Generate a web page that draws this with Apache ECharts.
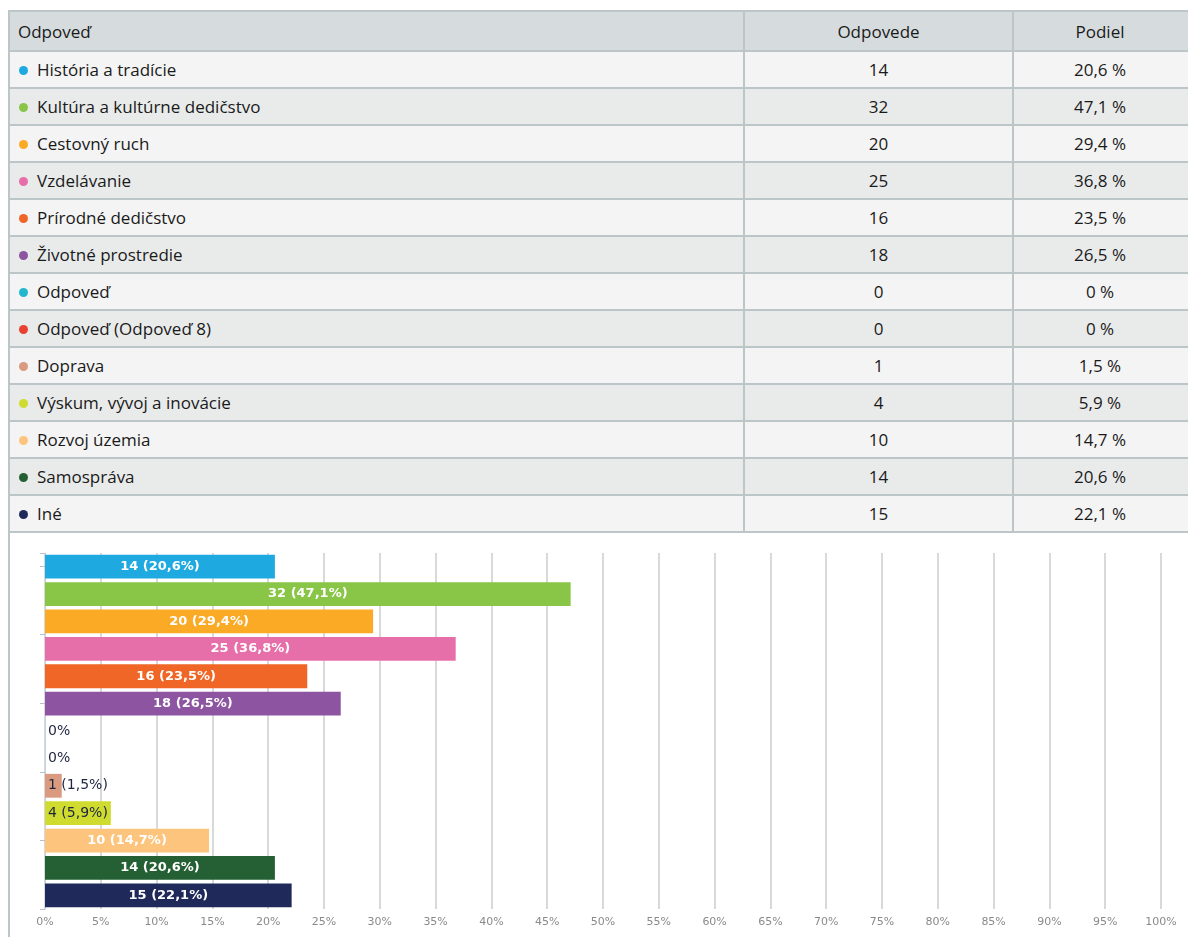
<!DOCTYPE html>
<html>
<head>
<meta charset="utf-8">
<script src="https://cdn.jsdelivr.net/npm/echarts@6/dist/echarts.min.js"></script>
<style>
  html, body { margin: 0; padding: 0; background: #fff; overflow: hidden; }
  #wrap { position: absolute; left: 8px; top: 10px; width: 1200px; }
  #leftline { position: absolute; left: 8px; top: 530px; width: 2px; height: 410px; background: #bcc5c7; }
  table { border-collapse: collapse; table-layout: fixed; width: 1200px; font-family: "Open Sans", "Noto Sans", sans-serif; font-size: 17px; color: #1a1a1a; }
  td, th { border: 2px solid #bcc5c7; padding: 0; font-weight: normal; }
  th { background: #d6dcde; height: 38px; }
  td { height: 35px; }
  tr.odd td { background: #f4f4f4; }
  tr.even td { background: #e9ebeb; }
  .c1 { width: 725px; text-align: left; padding-left: 8px; }
  .c2 { width: 267px; text-align: center; }
  .c3 { text-align: center; padding-right: 20px; }
  .dot { display: inline-block; width: 9px; height: 9px; border-radius: 50%; margin: 0 9px 0 1px; vertical-align: 1px; }
  #chart { position: absolute; left: 0; top: 533px; width: 1188px; height: 404px; }
</style>
</head>
<body>
<div id="wrap">
  <table id="tbl">
    <thead><tr><th class="c1">Odpoveď</th><th class="c2">Odpovede</th><th class="c3">Podiel</th></tr></thead>
    <tbody id="tbody"></tbody>
  </table>
</div>
<div id="leftline"></div>
<div id="chart"></div>
<script>
// answers, counts and shares (%) as shown in the table
var categories = ['História a tradície', 'Kultúra a kultúrne dedičstvo', 'Cestovný ruch', 'Vzdelávanie',
  'Prírodné dedičstvo', 'Životné prostredie', 'Odpoveď', 'Odpoveď (Odpoveď 8)', 'Doprava',
  'Výskum, vývoj a inovácie', 'Rozvoj územia', 'Samospráva', 'Iné'];
var counts = [14, 32, 20, 25, 16, 18, 0, 0, 1, 4, 10, 14, 15];
var shares = [20.6, 47.1, 29.4, 36.8, 23.5, 26.5, 0, 0, 1.5, 5.9, 14.7, 20.6, 22.1];
var colors = ['#1fa9e1', '#89c546', '#fbaa26', '#e66fa9', '#ef6627', '#8d54a1', '#20b7cf',
  '#e8412f', '#d99a7f', '#cfdc2f', '#fdc47e', '#246033', '#1f2a5b'];

function fmt(v) {
  return String(v).replace('.', ',');
}

// table
var rows = '';
for (var i = 0; i < categories.length; i++) {
  rows += '<tr class="' + (i % 2 === 0 ? 'odd' : 'even') + '">' +
    '<td class="c1"><span class="dot" style="background:' + colors[i] + '"></span>' + categories[i] + '</td>' +
    '<td class="c2">' + counts[i] + '</td>' +
    '<td class="c3">' + fmt(shares[i]) + '\u00a0%</td></tr>';
}
document.getElementById('tbody').innerHTML = rows;

// chart
var chart = echarts.init(document.getElementById('chart'));

var barData = shares.map(function (v, i) {
  var small = v < 10;
  return {
    value: v,
    itemStyle: { color: colors[i] },
    label: {
      position: small ? 'insideLeft' : 'inside',
      color: small ? '#1e2540' : '#fff',
      fontWeight: small ? 'normal' : 'bold',
      fontSize: small ? 14 : 13,
      offset: small ? [-2, 0] : [0, 0]
    }
  };
});

var option = {
  animation: false,
  grid: { left: 45, right: 27, top: 20, bottom: 28 },
  xAxis: {
    type: 'value',
    min: 0,
    max: 100,
    interval: 5,
    axisLine: { show: false },
    axisTick: { show: false },
    axisLabel: {
      color: '#8a8a8a',
      fontFamily: 'DejaVu Sans',
      fontSize: 11,
      margin: 8,
      formatter: function (v) { return v + '%'; }
    },
    splitLine: { show: true, lineStyle: { color: '#cdcdcd', width: 1.5 } }
  },
  yAxis: [{
    type: 'category',
    inverse: true,
    data: categories,
    axisLine: { show: true, lineStyle: { color: '#c8d2de', width: 1 } },
    axisTick: { show: false },
    axisLabel: { show: false }
  }, {
    type: 'value',
    position: 'left',
    min: 0,
    max: 5.19,
    interval: 1,
    axisLine: { show: false },
    axisTick: { show: true, length: 5, lineStyle: { color: '#b8c0cc' } },
    axisLabel: { show: false },
    splitLine: { show: false }
  }],
  series: [{
    type: 'bar',
    yAxisIndex: 0,
    data: barData,
    barCategoryGap: '13%',
    label: {
      show: true,
      fontFamily: 'DejaVu Sans',
      fontSize: 13,
      formatter: function (p) {
        var i = p.dataIndex;
        if (counts[i] === 0) return '0%';
        return counts[i] + ' (' + fmt(shares[i]) + '%)';
      }
    }
  }]
};

chart.setOption(option);
</script>
</body>
</html>
